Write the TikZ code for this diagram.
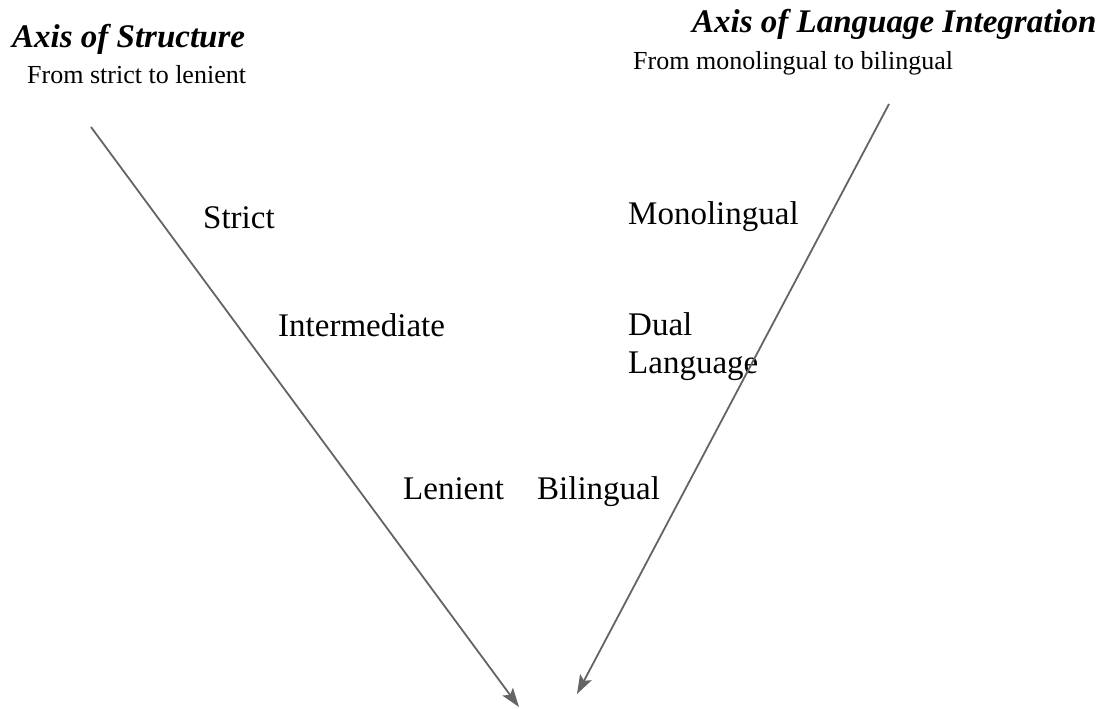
\documentclass[tikz,border=0pt]{standalone}
\usepackage{fontspec}
\setmainfont{Liberation Serif}
\usetikzlibrary{arrows.meta}
\begin{document}
\begin{tikzpicture}[x=1pt,y=-1pt,
  lbl/.style={anchor=base west,inner sep=0pt,font=\fontsize{33}{38}\selectfont},
  ttl/.style={anchor=base west,inner sep=0pt,font=\fontsize{33}{38}\selectfont\bfseries\itshape},
  sub/.style={anchor=base west,inner sep=0pt,font=\fontsize{26}{30}\selectfont},
  axis/.style={draw={rgb,255:red,100;green,100;blue,100},line width=1.8pt,-{Stealth[length=19pt,width=13pt,inset=4pt]}}]
\useasboundingbox (0,0) rectangle (1103,709);
\node[ttl] (t1) at (12,48) {Axis of Structure};
\node[sub] (s1) at (27,83) {From strict to lenient};
\node[ttl] (t2) at (692,33) {Axis of Language Integration};
\node[sub] (s2) at (633,70) {From monolingual to bilingual};
\node[lbl] (strict) at (203,228) {Strict};
\node[lbl] (inter) at (278,336) {Intermediate};
\node[lbl] (lenient) at (403,499) {Lenient};
\node[lbl] (mono) at (628,224) {Monolingual};
\node[lbl,align=left] (dual) at (628,373) {Dual\\Language};
\node[lbl] (bi) at (537,499) {Bilingual};
\coordinate (a1s) at (91,127);
\coordinate (a1e) at (519,707);
\coordinate (a2s) at (889,104);
\coordinate (a2e) at (577,694);
\draw[axis] (a1s) -- (a1e);
\draw[axis] (a2s) -- (a2e);
\end{tikzpicture}
\end{document}
